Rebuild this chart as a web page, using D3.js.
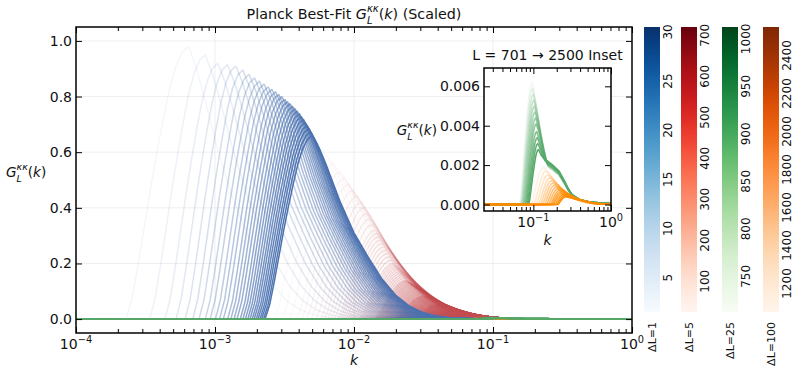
<!DOCTYPE html>
<html>
<head>
<meta charset="utf-8">
<script src="https://cdn.jsdelivr.net/npm/d3@7"></script>
<style>
  body { margin: 0; background: #fff; }
  svg { display: block; font-family: "DejaVu Sans", sans-serif; }
  text { white-space: pre; }
</style>
</head>
<body>
<svg id="chart" width="797" height="368"></svg>
<script>
// ---- values ----
// shape of one curve: rise (fraction of the way from onset to peak) and fall (dex past the peak)
const riseT = [0, 0.1, 0.2, 0.3, 0.4, 0.5, 0.6, 0.7, 0.8, 0.9, 1];
const riseF = [0, 0.08, 0.21, 0.35, 0.49, 0.62, 0.74, 0.85, 0.93, 0.98, 1];
const fallD = [0, 0.05, 0.1, 0.2, 0.3, 0.4, 0.5, 0.6, 0.7, 0.8, 0.9, 1.0, 1.2, 1.5];
const fallF = [1, 0.93, 0.84, 0.64, 0.47, 0.34, 0.22, 0.13, 0.07, 0.035, 0.016, 0.007, 0.0015, 0];

// ΔL=1 group
const blueL = [2, 3, 4, 5, 6, 7, 8, 9, 10, 11, 12, 13, 14, 15, 16, 17, 18, 19, 20, 21, 22, 23, 24, 25, 26, 27, 28, 29, 30];
const bluePeakLogK = [-3.19, -3.07, -2.98, -2.91, -2.85, -2.80, -2.755, -2.715, -2.68, -2.647, -2.617, -2.59, -2.564, -2.541,
  -2.518, -2.497, -2.478, -2.459, -2.441, -2.424, -2.408, -2.392, -2.378, -2.363, -2.35, -2.336, -2.324, -2.311, -2.30];
const bluePeakVal = [0.98, 0.95, 0.92, 0.915, 0.91, 0.895, 0.88, 0.867, 0.855, 0.845, 0.835, 0.826, 0.817, 0.808,
  0.80, 0.79, 0.782, 0.774, 0.765, 0.756, 0.747, 0.738, 0.728, 0.718, 0.707, 0.696, 0.685, 0.673, 0.66];
const blueRiseWidth = [0.45, 0.40, 0.38, 0.37, 0.365, 0.36, 0.36, 0.355, 0.355, 0.35, 0.35, 0.35, 0.345, 0.345,
  0.345, 0.345, 0.34, 0.34, 0.34, 0.34, 0.34, 0.34, 0.34, 0.34, 0.34, 0.34, 0.34, 0.34, 0.34];

// ΔL=5 group (L = 35..700), peaks read at these L
const redAnchorL = [35, 50, 75, 100, 150, 200, 300, 400, 500, 600, 700];
const redAnchorPeakLogK = [-2.24, -2.10, -1.95, -1.85, -1.72, -1.63, -1.50, -1.40, -1.30, -1.20, -1.10];
const redAnchorPeakVal = [0.62, 0.53, 0.42, 0.32, 0.20, 0.14, 0.085, 0.052, 0.032, 0.018, 0.009];
const redAnchorRiseWidth = [0.33, 0.31, 0.29, 0.27, 0.25, 0.23, 0.21, 0.19, 0.17, 0.16, 0.15];
const redAnchorFallScale = [1.0, 0.95, 0.9, 0.85, 0.8, 0.75, 0.7, 0.65, 0.6, 0.55, 0.5];

// ΔL=25 group
const greenL = [725, 750, 775, 800, 825, 850, 875, 900, 925, 950, 975, 1000];
const greenPeakLogK = [-1.017, -1.010, -1.002, -0.995, -0.988, -0.980, -0.972, -0.965, -0.958, -0.950, -0.943, -0.935];
const greenPeakVal = [0.0062, 0.0059, 0.0056, 0.0053, 0.0050, 0.0047, 0.0044, 0.0041, 0.0037, 0.0034, 0.0031, 0.0028];
const greenRiseWidth = [0.16, 0.157, 0.154, 0.151, 0.148, 0.145, 0.141, 0.138, 0.135, 0.132, 0.128, 0.125];
const greenFallD = [0, 0.04, 0.08, 0.12, 0.16, 0.2, 0.3, 0.4];
const greenFallF = [1, 0.88, 0.72, 0.56, 0.43, 0.33, 0.16, 0];
const greenTailLogK = [-1.0, -0.95, -0.85, -0.75, -0.67, -0.6, -0.55, -0.5, -0.4, -0.26, 0];
const greenTailVal = [0.0029, 0.0027, 0.0023, 0.0020, 0.0017, 0.0012, 0.0008, 0.0005, 0.00025, 0.00012, 0.00005];

// ΔL=100 group
const orangeL = [1100, 1200, 1300, 1400, 1500, 1600, 1700, 1800, 1900, 2000, 2100, 2200, 2300, 2400, 2500];
const orangePeakLogK = [-0.87, -0.84, -0.815, -0.79, -0.77, -0.75, -0.73, -0.71, -0.69, -0.67, -0.655, -0.64, -0.62, -0.60, -0.585];
const orangePeakVal = [0.0019, 0.0017, 0.0015, 0.00135, 0.0012, 0.00108, 0.00097, 0.00087, 0.00078, 0.0007,
  0.00062, 0.00055, 0.00049, 0.00044, 0.00039];
const orangeRiseWidth = [0.16, 0.155, 0.15, 0.145, 0.14, 0.135, 0.13, 0.125, 0.12, 0.115, 0.112, 0.109, 0.106, 0.103, 0.1];

// axes ticks
const xMajor = [1e-4, 1e-3, 1e-2, 1e-1, 1];
const xMajorExp = ['−4', '−3', '−2', '−1', '0'];
const yMajor = [0, 0.2, 0.4, 0.6, 0.8, 1.0];
const insetXMajor = [0.1, 1];
const insetXMajorExp = ['−1', '0'];
const insetYMajor = [0, 0.002, 0.004, 0.006];

// colorbars
const cbBlueTicks = [5, 10, 15, 20, 25, 30];
const cbRedTicks = [100, 200, 300, 400, 500, 600, 700];
const cbGreenTicks = [750, 800, 850, 900, 950, 1000];
const cbOrangeTicks = [1200, 1400, 1600, 1800, 2000, 2200, 2400];

// ---- layout ----
const svg = d3.select('#chart');
const M = { l: 76, r: 632, t: 27, b: 333 };
const I = { l: 484, r: 611, t: 68, b: 211 };

const x = d3.scaleLog().domain([1e-4, 1]).range([M.l, M.r]);
const y = d3.scaleLinear().domain([-0.05, 1.05]).range([M.b, M.t]);
const xi = d3.scaleLog().domain([Math.pow(10, -1.636), 1]).range([I.l, I.r]);
const yi = d3.scaleLinear().domain([-0.00033, 0.00693]).range([I.b, I.t]);

const riseShape = d3.scaleLinear().domain(riseT).range(riseF).clamp(true);
const fallShape = d3.scaleLinear().domain(fallD).range(fallF).clamp(true);
const greenFall = d3.scaleLinear().domain(greenFallD).range(greenFallF).clamp(true);
const greenTail = d3.scaleLinear().domain(greenTailLogK).range(greenTailVal).clamp(true);

function curveValue(c, lk) {
  if (lk <= c.peak) {
    const t = (lk - (c.peak - c.rise)) / c.rise;
    return t <= 0 ? 0 : c.amp * riseShape(t);
  }
  let v = c.amp * c.fall((lk - c.peak) / c.fallScale);
  if (c.tailScale) v = Math.max(v, Math.min(c.amp, c.tailScale * greenTail(lk)));
  return v;
}

function ramp(i, n, a0) { return a0 + (1 - a0) * (n > 1 ? i / (n - 1) : 1); }

const blueCurves = blueL.map((L, i) => ({
  peak: bluePeakLogK[i], amp: bluePeakVal[i], rise: blueRiseWidth[i],
  fall: fallShape, fallScale: 1, alpha: ramp(i, blueL.length, 0.06)
}));

const redL = d3.range(35, 701, 5);
const rp = d3.scaleLinear().domain(redAnchorL).range(redAnchorPeakLogK);
const ra = d3.scaleLinear().domain(redAnchorL).range(redAnchorPeakVal);
const rw = d3.scaleLinear().domain(redAnchorL).range(redAnchorRiseWidth);
const rs = d3.scaleLinear().domain(redAnchorL).range(redAnchorFallScale);
const redCurves = redL.map((L, i) => ({
  peak: rp(L), amp: ra(L), rise: rw(L), fall: fallShape, fallScale: rs(L),
  alpha: ramp(i, redL.length, 0.03)
}));

const greenCurves = greenL.map((L, i) => ({
  peak: greenPeakLogK[i], amp: greenPeakVal[i], rise: greenRiseWidth[i],
  fall: greenFall, fallScale: 1, tailScale: 0.86 + 0.14 * i / (greenL.length - 1),
  alpha: ramp(i, greenL.length, 0.08)
}));

const orangeCurves = orangeL.map((L, i) => ({
  peak: orangePeakLogK[i], amp: orangePeakVal[i], rise: orangeRiseWidth[i],
  fall: fallShape, fallScale: 0.7, alpha: ramp(i, orangeL.length, 0.12)
}));

const COLORS = { blue: '#4c72b0', red: '#c44e52', green: '#55a868', orange: '#ff8c00' };

// ---- rich text helper (mathtext-like sub/superscripts in one <text>) ----
function richText(parent, parts, px, py, size, anchor) {
  const tmp = parent.append('text').attr('font-size', size);
  let cx = 0;
  const pos = [];
  parts.forEach(p => {
    const ts = tmp.append('tspan')
      .attr('font-size', size * (p.sc || 1))
      .attr('font-style', p.it ? 'italic' : 'normal')
      .text(p.t);
    const w = ts.node().getComputedTextLength();
    pos.push(cx);
    if (p.adv !== false) cx += w;
  });
  tmp.remove();
  const off = anchor === 'middle' ? -cx / 2 : anchor === 'end' ? -cx : 0;
  const t = parent.append('text').attr('font-size', size).attr('fill', '#111');
  parts.forEach((p, i) => t.append('tspan')
    .attr('x', px + off + pos[i])
    .attr('y', py + (p.dy || 0) * size)
    .attr('font-size', size * (p.sc || 1))
    .attr('font-style', p.it ? 'italic' : 'normal')
    .text(p.t));
  return t;
}
const gParts = [
  { t: 'G', it: true },
  { t: 'L', it: true, sc: 0.7, dy: 0.35, adv: false },
  { t: 'κκ', it: true, sc: 0.7, dy: -0.5 },
  { t: '(' }, { t: 'k', it: true }, { t: ')' }
];

// ---- main axes ----
const defs = svg.append('defs');
defs.append('clipPath').attr('id', 'clipMain')
  .append('rect').attr('x', M.l).attr('y', M.t).attr('width', M.r - M.l).attr('height', M.b - M.t);
defs.append('clipPath').attr('id', 'clipInset')
  .append('rect').attr('x', I.l).attr('y', I.t).attr('width', I.r - I.l).attr('height', I.b - I.t);

// grid
const grid = svg.append('g').attr('stroke', '#ebebeb').attr('stroke-width', 0.8);
xMajor.slice(1, -1).forEach(v => grid.append('line')
  .attr('x1', x(v)).attr('x2', x(v)).attr('y1', M.t).attr('y2', M.b));
yMajor.forEach(v => grid.append('line')
  .attr('x1', M.l).attr('x2', M.r).attr('y1', y(v)).attr('y2', y(v)));

const lkMain = d3.range(-4, 0.0001, 0.004);
const lkInset = d3.range(-1.64, 0.0001, 0.002);

function drawGroup(layer, curves, color, sx, sy, lks, width) {
  const line = d3.line().x(d => sx(Math.pow(10, d[0]))).y(d => sy(d[1]));
  layer.selectAll(null)
    .data(curves)
    .enter()
    .append('path')
    .attr('fill', 'none')
    .attr('stroke', color)
    .attr('stroke-width', width)
    .attr('stroke-opacity', c => c.alpha)
    .attr('stroke-linejoin', 'round')
    .attr('d', c => line(lks.map(lk => [lk, curveValue(c, lk)])));
}

const mainLayer = svg.append('g').attr('clip-path', 'url(#clipMain)');
drawGroup(mainLayer, redCurves, COLORS.red, x, y, lkMain, 1.4);
drawGroup(mainLayer, blueCurves, COLORS.blue, x, y, lkMain, 1.5);
drawGroup(mainLayer, orangeCurves, COLORS.orange, x, y, lkMain, 1.5);
drawGroup(mainLayer, greenCurves, COLORS.green, x, y, lkMain, 1.8);

// ticks
function ticks(axisFn, scale, vals, len, tr) {
  svg.append('g').attr('transform', tr)
    .call(axisFn(scale).tickValues(vals).tickSizeInner(-len).tickSizeOuter(0).tickFormat(''))
    .call(g => g.select('.domain').remove())
    .call(g => g.selectAll('line').attr('stroke', '#000').attr('stroke-width', 1));
}
const xMinor = [];
[-4, -3, -2, -1].forEach(e => d3.range(2, 10).forEach(m => xMinor.push(m * Math.pow(10, e))));
ticks(d3.axisBottom, x, xMajor, 6, `translate(0,${M.b})`);
ticks(d3.axisBottom, x, xMinor, 4, `translate(0,${M.b})`);
ticks(d3.axisTop, x, xMajor, 6, `translate(0,${M.t})`);
ticks(d3.axisTop, x, xMinor, 4, `translate(0,${M.t})`);
ticks(d3.axisLeft, y, yMajor, 6, `translate(${M.l},0)`);
ticks(d3.axisRight, y, yMajor, 6, `translate(${M.r},0)`);

svg.append('rect').attr('x', M.l).attr('y', M.t).attr('width', M.r - M.l).attr('height', M.b - M.t)
  .attr('fill', 'none').attr('stroke', '#000').attr('stroke-width', 1.5);

// tick labels
xMajor.forEach((v, i) => richText(svg, [{ t: '10' }, { t: xMajorExp[i], sc: 0.7, dy: -0.45 }], x(v), 349, 14, 'middle'));
yMajor.forEach(v => svg.append('text')
  .attr('x', M.l - 4).attr('y', y(v)).attr('dy', '0.36em')
  .attr('text-anchor', 'end').attr('font-size', 14).attr('fill', '#111')
  .text(v.toFixed(1)));

// titles and axis labels
richText(svg, [{ t: 'Planck Best-Fit ' }].concat(gParts, [{ t: ' (Scaled)' }]), (M.l + M.r) / 2, 19, 14.3, 'middle');
richText(svg, gParts, 6, 177, 13.6, 'start');
richText(svg, [{ t: 'k', it: true }], (M.l + M.r) / 2, 365, 14, 'middle');

// ---- inset ----
svg.append('rect').attr('x', I.l).attr('y', I.t).attr('width', I.r - I.l).attr('height', I.b - I.t)
  .attr('fill', '#fff');
const insetLayer = svg.append('g').attr('clip-path', 'url(#clipInset)');
drawGroup(insetLayer, greenCurves, COLORS.green, xi, yi, lkInset, 1.5);
drawGroup(insetLayer, orangeCurves, COLORS.orange, xi, yi, lkInset, 1.5);

const xiMinor = [0.03, 0.04, 0.05, 0.06, 0.07, 0.08, 0.09, 0.2, 0.3, 0.4, 0.5, 0.6, 0.7, 0.8, 0.9];
ticks(d3.axisBottom, xi, insetXMajor, 6, `translate(0,${I.b})`);
ticks(d3.axisBottom, xi, xiMinor, 4, `translate(0,${I.b})`);
ticks(d3.axisTop, xi, insetXMajor, 6, `translate(0,${I.t})`);
ticks(d3.axisTop, xi, xiMinor, 4, `translate(0,${I.t})`);
ticks(d3.axisLeft, yi, insetYMajor, 6, `translate(${I.l},0)`);
ticks(d3.axisRight, yi, insetYMajor, 6, `translate(${I.r},0)`);
svg.append('rect').attr('x', I.l).attr('y', I.t).attr('width', I.r - I.l).attr('height', I.b - I.t)
  .attr('fill', 'none').attr('stroke', '#000').attr('stroke-width', 1.5);

insetXMajor.forEach((v, i) => richText(svg, [{ t: '10' }, { t: insetXMajorExp[i], sc: 0.7, dy: -0.45 }], xi(v), 227, 14, 'middle'));
insetYMajor.forEach(v => svg.append('text')
  .attr('x', I.l - 4).attr('y', yi(v)).attr('dy', '0.36em')
  .attr('text-anchor', 'end').attr('font-size', 14).attr('fill', '#111')
  .text(v.toFixed(3)));
richText(svg, [{ t: 'L = 701 → 2500 Inset' }], (I.l + I.r) / 2, 60, 14, 'middle');
richText(svg, gParts, 437, 135, 13.6, 'end');
richText(svg, [{ t: 'k', it: true }], (I.l + I.r) / 2, 245, 14, 'middle');

// ---- colorbars ----
const CB = { t: 27, b: 312, w: 16 };
const colorbars = [
  { x0: 644, interp: d3.interpolateBlues, domain: [1.5, 30.5], ticks: cbBlueTicks, label: 'ΔL=1' },
  { x0: 681, interp: d3.interpolateReds, domain: [25, 720], ticks: cbRedTicks, label: 'ΔL=5' },
  { x0: 722, interp: d3.interpolateGreens, domain: [712.5, 1012.5], ticks: cbGreenTicks, label: 'ΔL=25' },
  { x0: 763, interp: d3.interpolateOranges, domain: [1050, 2550], ticks: cbOrangeTicks, label: 'ΔL=100' }
];
colorbars.forEach((cb, k) => {
  const id = 'cbgrad' + k;
  const grad = defs.append('linearGradient').attr('id', id)
    .attr('x1', 0).attr('y1', 1).attr('x2', 0).attr('y2', 0);
  d3.range(0, 1.0001, 0.05).forEach(t => grad.append('stop')
    .attr('offset', t).attr('stop-color', cb.interp(t)));
  svg.append('rect').attr('x', cb.x0).attr('y', CB.t).attr('width', CB.w).attr('height', CB.b - CB.t)
    .attr('fill', `url(#${id})`);
  const sc = d3.scaleLinear().domain(cb.domain).range([CB.b, CB.t]);
  const lx = cb.x0 + CB.w / 2 + 15.5;
  cb.ticks.forEach(v => svg.append('text')
    .attr('transform', `translate(${lx},${sc(v)}) rotate(-90)`)
    .attr('text-anchor', 'middle').attr('dy', '0.36em')
    .attr('font-size', 12).attr('fill', '#111')
    .text(v));
  svg.append('text')
    .attr('transform', `translate(${cb.x0 + CB.w / 2},322) rotate(-90)`)
    .attr('text-anchor', 'end').attr('dy', '0.36em')
    .attr('font-size', 11).attr('fill', '#111')
    .text(cb.label);
});
</script>
</body>
</html>
